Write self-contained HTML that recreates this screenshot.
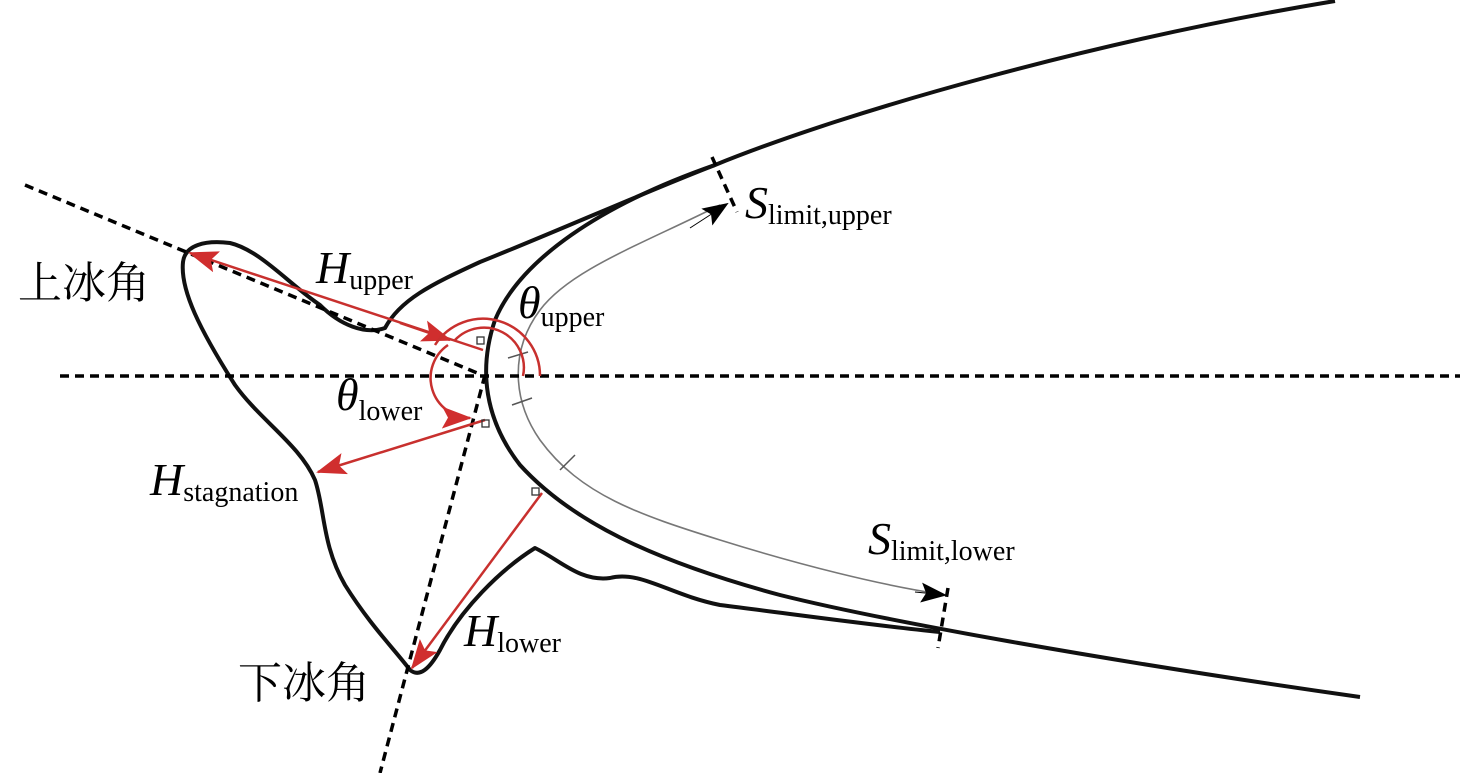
<!DOCTYPE html>
<html><head><meta charset="utf-8"><style>
html,body{margin:0;padding:0;background:#fff;width:1476px;height:773px;overflow:hidden}
svg text{font-family:"Liberation Serif","Noto Serif CJK SC",serif}
.it{font-style:italic}
</style></head><body>
<svg width="1476" height="773" viewBox="0 0 1476 773" xmlns="http://www.w3.org/2000/svg">
<defs>
<marker id="rb" markerWidth="30" markerHeight="22" refX="28" refY="11" orient="auto-start-reverse" markerUnits="userSpaceOnUse"><path d="M0,0 L30,11 L0,22 L6,11 z" fill="#d02e2e"/></marker>
<marker id="kb" markerWidth="26" markerHeight="20" refX="24" refY="10" orient="auto" markerUnits="userSpaceOnUse"><path d="M0,0 L26,10 L0,20 L5,10 z" fill="#000"/></marker>
</defs>
<g fill="none" stroke="#111" stroke-width="4" stroke-linejoin="round">
<path d="M1335,1 C1100,40 850,110 715,165 C600,205 520,260 495,320 C478,370 485,420 520,465 C570,520 650,560 780,595 C880,620 1100,660 1360,697"/>
<path d="M715,165 C650,190 560,230 480,262 C430,285 400,300 385,328 C365,335 340,325 320,305 C290,285 260,250 230,243 C205,240 185,245 183,262 C180,290 200,330 235,385 C260,420 300,445 315,480 C325,510 322,545 345,585 C370,625 395,650 410,670 C420,678 430,668 440,650 C460,610 500,570 535,548 C560,560 580,582 610,578 C640,570 670,595 720,605 C800,615 870,625 940,632"/>
</g>
<path d="M720,205 C640,245 570,270 540,310 C510,350 512,400 540,440 C580,495 640,515 720,540 C800,565 880,585 940,594" fill="none" stroke="#777" stroke-width="1.6"/>
<g stroke="#555" stroke-width="1.5"><line x1="508" y1="358" x2="528" y2="352"/><line x1="512" y1="405" x2="532" y2="398"/><line x1="560" y1="470" x2="575" y2="455"/></g>
<g stroke="#000" stroke-width="3.5" stroke-dasharray="9,6" fill="none">
<line x1="60" y1="376" x2="1460" y2="376"/>
<line x1="25" y1="185" x2="482" y2="375"/>
<line x1="485" y1="375" x2="380" y2="773"/>
<line x1="712" y1="157" x2="737" y2="212"/>
<line x1="948" y1="588" x2="938" y2="648"/>
</g>
<path d="M690,228 L727,204" stroke="#000" stroke-width="1" marker-end="url(#kb)"/>
<path d="M915,592 L945,595" stroke="#000" stroke-width="1" marker-end="url(#kb)"/>
<g stroke="#c8302e" stroke-width="2.5" fill="none">
<line x1="190" y1="253" x2="483" y2="350" marker-start="url(#rb)"/>
<line x1="400" y1="323" x2="450" y2="340" marker-end="url(#rb)"/>
<line x1="485" y1="420" x2="318" y2="472" marker-end="url(#rb)"/>
<line x1="542" y1="493" x2="412" y2="668" marker-end="url(#rb)"/>
<path d="M540,376 A57,57 0 0 0 435,345"/>
<path d="M523,376 A40,40 0 0 0 455,340"/>
<path d="M448,345 A40,40 0 0 0 470,418" marker-end="url(#rb)"/>
</g>
<g stroke="#333" stroke-width="1.3" fill="none"><rect x="477" y="337" width="7" height="7"/><rect x="482" y="420" width="7" height="7"/><rect x="532" y="488" width="7" height="7"/></g>
<text x="18" y="298" font-size="44">上冰角</text>
<text x="238" y="698" font-size="44">下冰角</text>
<text x="316" y="283" font-size="46" class="it">H<tspan font-size="28" font-style="normal" dy="6">upper</tspan></text>
<text x="518" y="318" font-size="46" class="it">θ<tspan font-size="28" font-style="normal" dy="8">upper</tspan></text>
<text x="336" y="410" font-size="46" class="it">θ<tspan font-size="28" font-style="normal" dy="10">lower</tspan></text>
<text x="150" y="495" font-size="46" class="it">H<tspan font-size="28" font-style="normal" dy="6">stagnation</tspan></text>
<text x="464" y="646" font-size="46" class="it">H<tspan font-size="28" font-style="normal" dy="6">lower</tspan></text>
<text x="745" y="218" font-size="46" class="it">S<tspan font-size="28" font-style="normal" dy="6">limit,upper</tspan></text>
<text x="868" y="554" font-size="46" class="it">S<tspan font-size="28" font-style="normal" dy="6">limit,lower</tspan></text>
</svg>
</body></html>
